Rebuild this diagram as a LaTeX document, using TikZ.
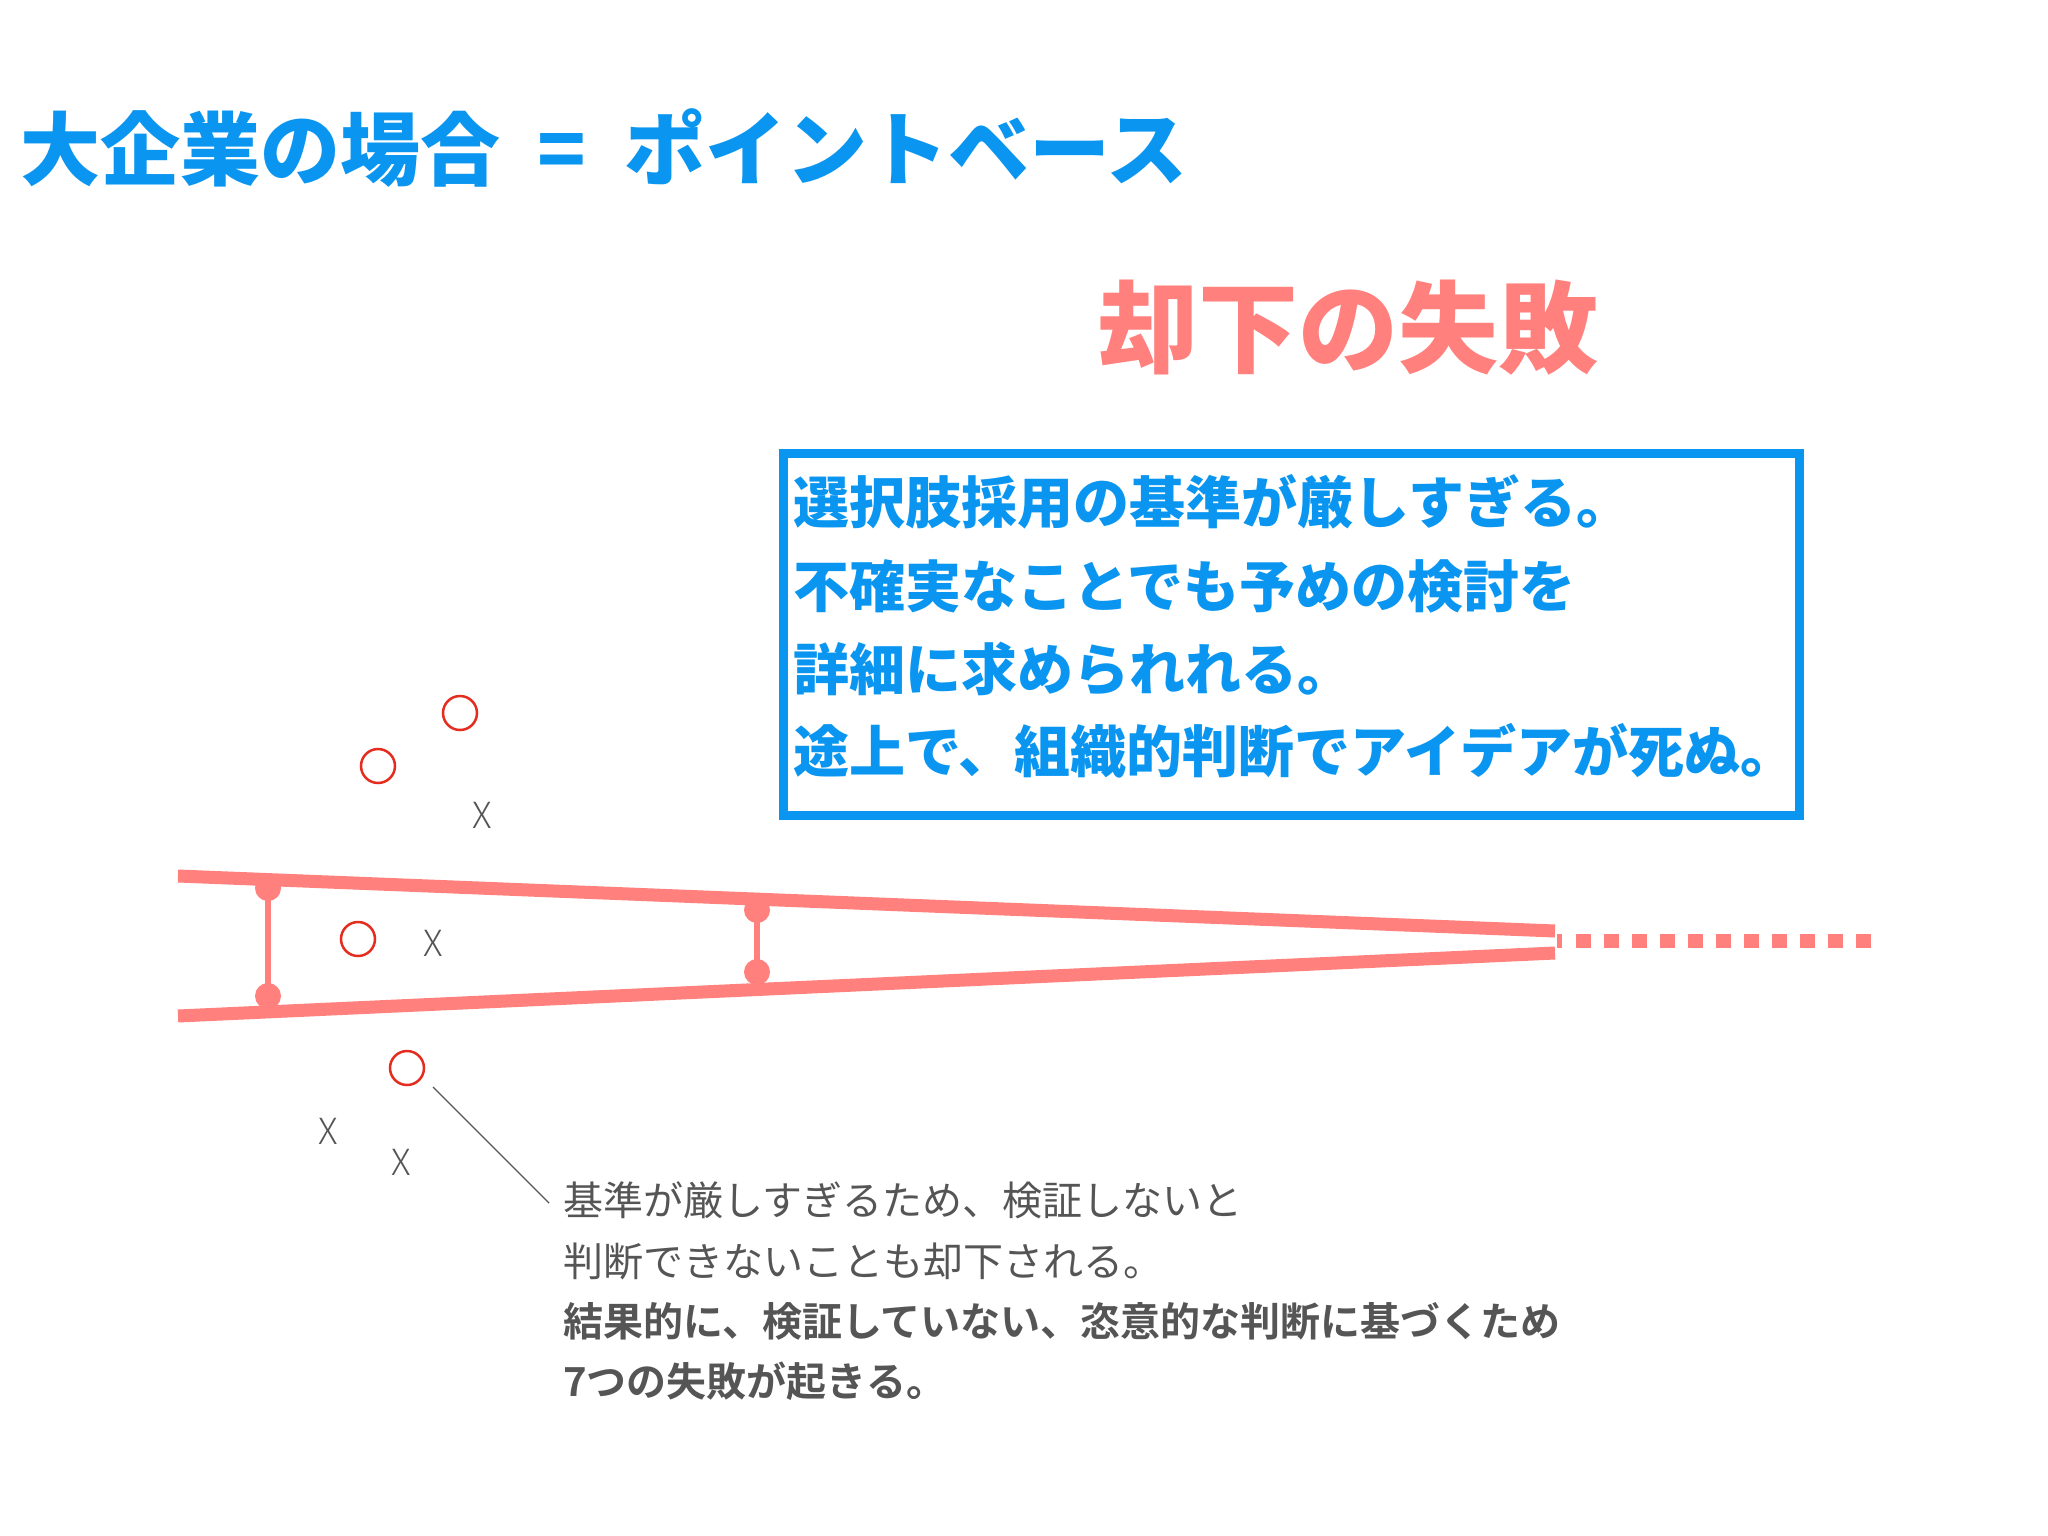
\documentclass[tikz,border=0pt]{standalone}
\usepackage{fontspec}
\newfontfamily\jpblack{Noto Sans CJK JP Black}
\newfontfamily\jpbold{Noto Sans CJK JP Bold}
\newfontfamily\jpreg{Noto Sans CJK JP}
\newfontfamily\jplight{Noto Sans CJK JP Light}
\definecolor{tblue}{RGB}{10,150,240}
\definecolor{salmon}{RGB}{255,128,124}
\definecolor{ringred}{RGB}{228,45,30}
\definecolor{txtgray}{RGB}{85,85,85}
\tikzset{
  ring/.style={circle,draw=ringred,line width=2.5pt,minimum size=34pt,inner sep=0pt},
  xmark/.style={inner sep=0pt,text=txtgray,font=\jplight\fontsize{36pt}{40pt}\selectfont},
  funnel/.style={draw=salmon,line width=13pt},
  rung/.style={draw=salmon,line width=6pt},
  pin/.style={circle,fill=salmon,minimum size=26pt,inner sep=0pt},
  bline/.style={anchor=base west,inner sep=0pt,text=tblue,font=\jpblack\fontsize{56pt}{60pt}\selectfont},
  aline/.style={anchor=base west,inner sep=0pt,text=txtgray,font=\jpreg\fontsize{40pt}{44pt}\selectfont},
  abold/.style={aline,font=\jpbold\fontsize{40pt}{44pt}\selectfont},
  leader/.style={draw=txtgray,line width=1.4pt},
}
\begin{document}
\begin{tikzpicture}[x=1pt,y=-1pt]
\useasboundingbox[fill=white] (0,0) rectangle (2048,1536);

% title
\node[anchor=base west,inner sep=0pt,text=tblue,font=\jpblack\fontsize{80pt}{90pt}\selectfont]
  (title) at (20,179) {大企業の場合\makebox[124pt]{=}{\fontsize{81pt}{90pt}\selectfont ポイントベース}};

% red heading
\node[anchor=base,inner sep=0pt,text=salmon,font=\jpblack\fontsize{100pt}{110pt}\selectfont]
  (fail) at (1348,365) {却下の失敗};

% blue box
\node[draw=tblue,line width=9pt,minimum width=1016pt,minimum height=362pt,inner sep=0pt,anchor=north west]
  (box) at (779,449) {};
\node[bline] (b1) at (793,523) {選択肢採用の基準が厳しすぎる。};
\node[bline] (b2) at (793,607) {不確実なことでも予めの検討を};
\node[bline] (b3) at (793,690) {詳細に求められれる。};
\node[bline] (b4) at (793,772) {途上で、組織的判断でアイデアが死ぬ。};

% funnel
\coordinate (tl) at (178,876);
\coordinate (tr) at (1555,931);
\coordinate (bl) at (178,1016);
\coordinate (br) at (1555,953);
\coordinate (ds) at (1576,941);
\coordinate (de) at (1871,941);
\path[funnel] (tl) -- (tr);
\path[funnel] (bl) -- (br);
\path[draw=salmon,line width=14pt,dash pattern=on 15pt off 13pt] (ds) -- (de);
\path[draw=salmon,line width=14pt] (1557,941) -- (1562,941);

% rungs
\node[pin] (r1t) at (268,888) {};
\node[pin] (r1b) at (268,996) {};
\node[pin] (r2t) at (757,910) {};
\node[pin] (r2b) at (757,972) {};
\path[rung] (r1t.center) -- (r1b.center);
\path[rung] (r2t.center) -- (r2b.center);

% circles
\node[ring] (o1) at (460,713) {};
\node[ring] (o2) at (378,766) {};
\node[ring] (o3) at (358,939) {};
\node[ring] (o4) at (407,1068) {};

% crosses
\node[xmark] (x1) at (482,815) {X};
\node[xmark] (x2) at (433,943) {X};
\node[xmark] (x3) at (328,1131) {X};
\node[xmark] (x4) at (401,1162) {X};

% annotation
\node[aline] (a1) at (563,1215) {基準が厳しすぎるため、検証しないと};
\node[aline] (a2) at (563,1276) {判断できないことも却下される。};
\node[abold] (a3) at (563,1336) {結果的に、検証していない、恣意的な判断に基づくため};
\node[abold] (a4) at (563,1396) {7つの失敗が起きる。};

\coordinate (l1) at (433,1087);
\coordinate (l2) at (549,1203);
\path[leader] (l1) -- (l2);
\end{tikzpicture}
\end{document}
